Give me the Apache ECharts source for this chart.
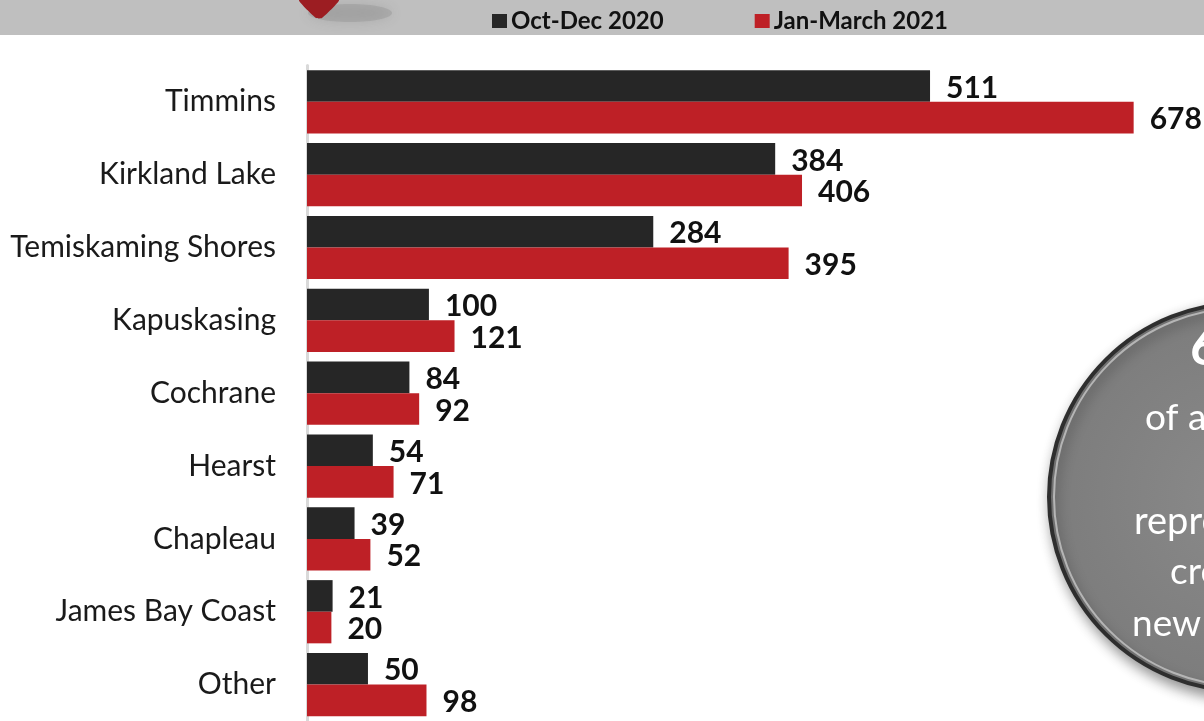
<!DOCTYPE html>
<html><head><meta charset="utf-8">
<script src="https://cdn.jsdelivr.net/npm/echarts@6/dist/echarts.min.js"></script>
<style>html,body{margin:0;padding:0;background:#fff}#c{width:1204px;height:721px}</style>
</head><body><div id="c"></div>
<script>
const categories = ['Timmins','Kirkland Lake','Temiskaming Shores','Kapuskasing','Cochrane','Hearst','Chapleau','James Bay Coast','Other'];
const octDec2020 = [511,384,284,100,84,54,39,21,50];
const janMar2021 = [678,406,395,121,92,71,52,20,98];
const seriesNames = ['Oct-Dec 2020','Jan-March 2021'];
const circleLines = ['of all','represents','created','new jobs'];

const FONT = 'Lato';
const chart = echarts.init(document.getElementById('c'), null, {renderer:'canvas'});
const labelStyle = {show:true, position:'right', distance:16, offset:[0,2], color:'#111', fontSize:30, fontWeight:'bold', fontFamily:FONT};
const txtShadow = {fill:'#fff', shadowBlur:4, shadowColor:'rgba(0,0,0,0.6)', shadowOffsetX:1, shadowOffsetY:2};
chart.setOption({
  animation:false,
  backgroundColor:'#fff',
  grid:{left:307, top:65.4, bottom:-4, right:0, containLabel:false},
  legend:{
    data:seriesNames, left:487, top:4, itemWidth:15, itemHeight:14, itemGap:91,
    icon:'rect',
    textStyle:{fontFamily:FONT, fontWeight:'bold', fontSize:24, color:'#111', padding:[0,0,0,-1]}
  },
  xAxis:{type:'value', min:0, max:735.7, show:false, splitLine:{show:false}},
  yAxis:{type:'category', data:categories, inverse:true,
    axisLine:{show:true, lineStyle:{color:'#d9d9d9', width:3}},
    axisTick:{show:false},
    axisLabel:{margin:31, fontSize:30, fontFamily:FONT, color:'#1a1a1a', padding:[4,0,0,0]}
  },
  series:[
    {name:seriesNames[0], type:'bar', data:octDec2020, barWidth:31.6, barGap:'0%', itemStyle:{color:'#262626'}, label:labelStyle},
    {name:seriesNames[1], type:'bar', data:janMar2021, barWidth:31.6, barGap:'0%', itemStyle:{color:'#be2026'}, label:labelStyle}
  ],
  graphic:[
    {type:'rect', z:-10, silent:true, shape:{x:0,y:0,width:1204,height:35}, style:{fill:'#bfbfbf'}},
    {type:'ellipse', z:-9, shape:{cx:350,cy:13,rx:42,ry:9}, style:{fill:'rgba(140,140,140,0.35)', shadowBlur:12, shadowColor:'rgba(90,90,90,0.5)'}},
    {type:'polygon', z:-8, shape:{points:[[299,0],[339,0],[322,18],[316,18]], smooth:0.15}, style:{fill:'#9c1d22'}},
    {type:'circle', z:20, shape:{cx:1243,cy:497,r:194},
      style:{fill:new echarts.graphic.RadialGradient(0.5,0.5,0.6,[{offset:0,color:'#8a8a8a'},{offset:0.85,color:'#7c7c7c'},{offset:1,color:'#6c6c6c'}]),
        stroke:'#2e2e2e', lineWidth:4, shadowBlur:14, shadowOffsetX:4, shadowOffsetY:6, shadowColor:'rgba(0,0,0,0.45)'}},
    {type:'circle', z:21, shape:{cx:1243,cy:497,r:189}, style:{fill:'none', stroke:'#b5b5b5', lineWidth:2}},
    {type:'text', z:22, left:1190, top:322, style:Object.assign({text:'66%', font:'bold 52px Lato'}, txtShadow)},
    {type:'text', z:22, left:1145, top:400, style:Object.assign({text:circleLines[0], font:'37px Lato'}, txtShadow)},
    {type:'text', z:22, left:1134, top:503, style:Object.assign({text:circleLines[1], font:'38px Lato'}, txtShadow)},
    {type:'text', z:22, left:1170, top:554, style:Object.assign({text:circleLines[2], font:'37px Lato'}, txtShadow)},
    {type:'text', z:22, left:1132, top:606, style:Object.assign({text:circleLines[3], font:'37px Lato'}, txtShadow)}
  ]
});
</script></body></html>
